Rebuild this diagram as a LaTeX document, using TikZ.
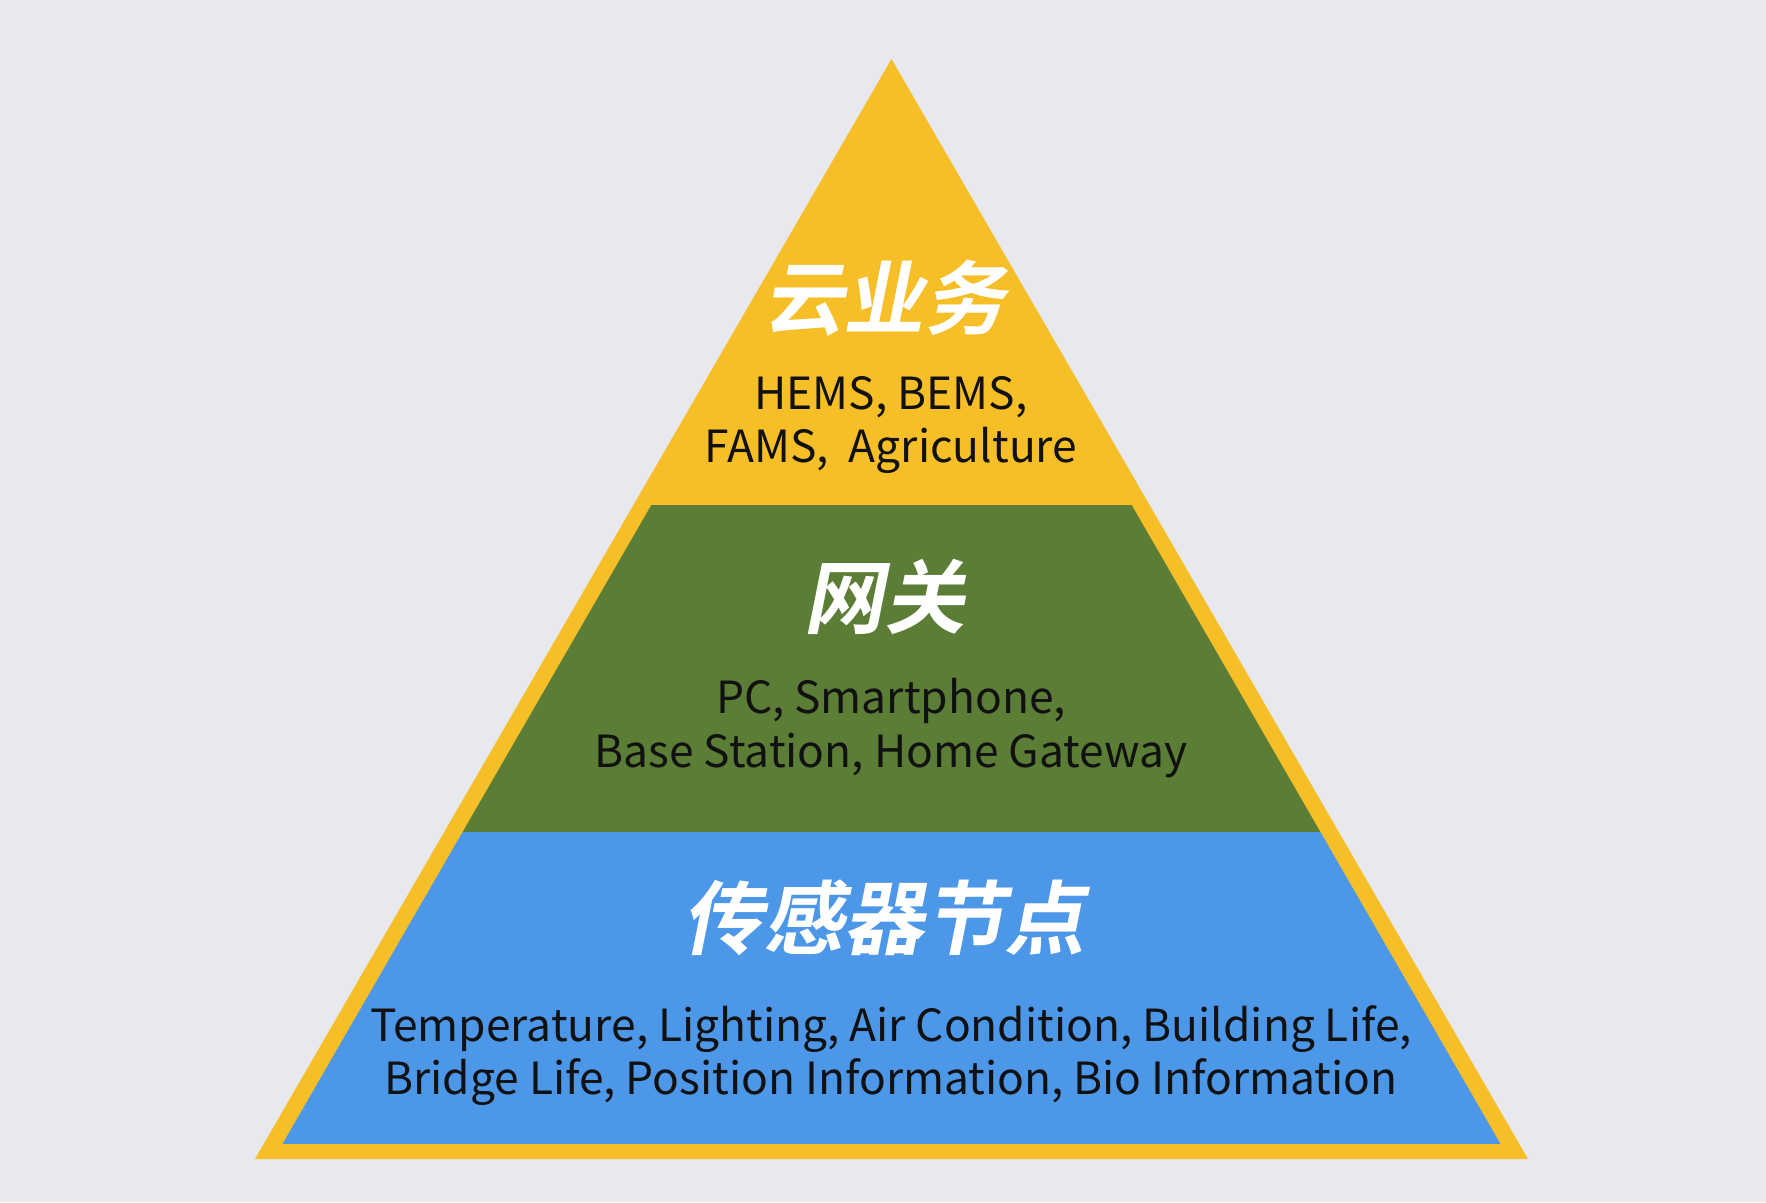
\documentclass[tikz,border=0pt]{standalone}
\usepackage{fontspec}
\newfontfamily\cjk{Noto Sans CJK SC}
\newfontfamily\cjktitle[FakeSlant=0.2]{Noto Sans CJK SC Bold}
\usetikzlibrary{positioning}

\definecolor{bgcol}{HTML}{E8E9EE}
\definecolor{pyryellow}{HTML}{F6BE27}
\definecolor{pyrgreen}{HTML}{5B7D36}
\definecolor{pyrblue}{HTML}{4C97E7}
\definecolor{textcol}{HTML}{111111}

\begin{document}
\begin{tikzpicture}[
    x=0.01cm, y=-0.01cm,
    % Node styles
    layertitle/.style={
        font=\cjktitle\fontsize{22.9}{26}\selectfont,
        text=white,
        inner sep=0pt
    },
    layertext/.style={
        font=\cjk\fontsize{12.6}{15.1}\selectfont,
        text=textcol,
        align=center,
        inner sep=0pt
    }
]

% === Background ===
\fill[bgcol] (0,0) rectangle (1766,1202);
\useasboundingbox (0,0) rectangle (1766,1202);

% === Outer triangle (frame and top layer) ===
\coordinate (apex) at (891.5,59);
\coordinate (baseleft) at (255,1159);
\coordinate (baseright) at (1528,1159);
\fill[pyryellow] (apex) -- (baseleft) -- (baseright) -- cycle;

% === Lower layers, clipped to the inner triangle ===
\coordinate (inapex) at (891.5,89);
\coordinate (inleft) at (282.5,1144);
\coordinate (inright) at (1500.5,1144);
\begin{scope}
    \clip (inapex) -- (inleft) -- (inright) -- cycle;
    \fill[pyrgreen] (0,505) rectangle (1766,832);
    \fill[pyrblue] (0,832) rectangle (1766,1144);
\end{scope}

% === Labels ===
\node[layertitle] (cloud) at (884,298) {云业务};
\node[layertext] (cloudtext) at (891,425) {HEMS, BEMS,\\FAMS,\ \ Agriculture};

\node[layertitle] (gateway) at (884,597) {网关};
\node[layertext] (gatewaytext) at (891,728) {PC, Smartphone,\\Base Station, Home Gateway};

\node[layertitle] (sensor) at (884,918) {传感器节点};
\node[layertext] (sensortext) at (891,1056) {Temperature, Lighting, Air Condition, Building Life,\\Bridge Life, Position Information, Bio Information};

\end{tikzpicture}
\end{document}
